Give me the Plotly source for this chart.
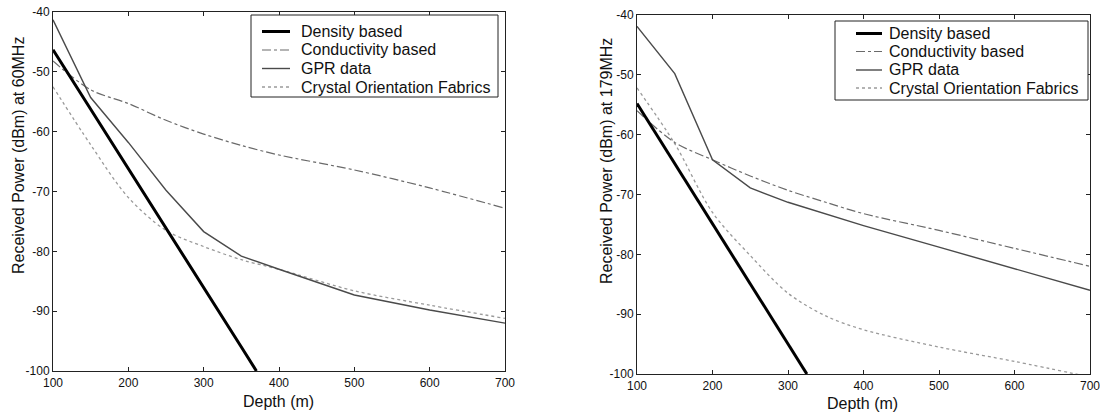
import plotly.graph_objects as go

# ---- data -------------------------------------------------------------
depth = [100, 150, 200, 250, 300, 350, 400, 500, 600, 700]

# 60 MHz panel
density_60_depth = [100, 150, 200, 250, 300, 350, 370]
density_60 = [-46.3, -56.2, -66.1, -76.0, -86.0, -96.0, -100.0]
conductivity_60 = [-48.2, -53.0, -55.3, -58.1, -60.4, -62.3, -63.9, -66.4, -69.4, -72.8]
gpr_60 = [-41.3, -54.3, -61.8, -69.8, -76.7, -80.8, -83.0, -87.3, -89.8, -92.0]
crystal_60 = [-52.5, -62.2, -71.0, -76.5, -79.2, -81.4, -83.0, -86.6, -89.0, -91.2]

# 179 MHz panel
density_179_depth = [100, 150, 200, 250, 300, 325]
density_179 = [-54.8, -64.8, -74.8, -84.9, -94.9, -100.0]
conductivity_179 = [-56.0, -61.3, -64.2, -66.9, -69.3, -71.3, -73.2, -76.0, -79.0, -82.0]
gpr_179 = [-41.9, -49.8, -64.2, -68.9, -71.3, -73.2, -75.2, -78.8, -82.4, -86.0]
crystal_179 = [-52.2, -61.5, -73.0, -80.2, -86.5, -90.3, -92.6, -95.5, -97.9, -100.5]

series_names = ["Density based", "Conductivity based", "GPR data",
                "Crystal Orientation Fabrics"]

x_tick_vals = [100, 200, 300, 400, 500, 600, 700]
x_tick_text = ["100", "200", "300", "400", "500", "600", "700"]
y_tick_vals = [-100, -90, -80, -70, -60, -50, -40]
y_tick_text = ["-100", "-90", "-80", "-70", "-60", "-50", "-40"]

x_title = "Depth (m)"
y_titles = ["Received Power (dBm) at 60MHz", "Received Power (dBm) at 179MHz"]

# ---- styling ----------------------------------------------------------
W, H = 1100, 414
FONT = "Liberation Sans, Arial, Helvetica, sans-serif"

styles = {
    "Density based": dict(color="#000000", width=3.0, dash="solid"),
    "Conductivity based": dict(color="#6a6a6a", width=1.2, dash="dashdot"),
    "GPR data": dict(color="#4a4a4a", width=1.4, dash="solid"),
    "Crystal Orientation Fabrics": dict(color="#9a9a9a", width=1.3, dash="dot"),
}
smooth = {"Density based": False, "Conductivity based": True,
          "GPR data": False, "Crystal Orientation Fabrics": True}

# plot areas in pixels: (left, top, right, bottom)
panels = [
    dict(box=(53, 12, 505, 371), xa="x", ya="y",
         legend=dict(box=(251, 15, 498, 97), sample=(262, 290), text_x=299,
                     rows=[31.5, 50, 68.5, 87]),
         ytitle=(18, 156), xtitle=(278, 401)),
    dict(box=(637, 15, 1090, 374), xa="x2", ya="y2",
         legend=dict(box=(835, 21, 1088, 100), sample=(856, 882), text_x=887,
                     rows=[33.5, 51.5, 70, 88]),
         ytitle=(607, 161), xtitle=(862, 403)),
]

panel_data = [
    {"Density based": (density_60_depth, density_60),
     "Conductivity based": (depth, conductivity_60),
     "GPR data": (depth, gpr_60),
     "Crystal Orientation Fabrics": (depth, crystal_60)},
    {"Density based": (density_179_depth, density_179),
     "Conductivity based": (depth, conductivity_179),
     "GPR data": (depth, gpr_179),
     "Crystal Orientation Fabrics": (depth, crystal_179)},
]


def fx(p):
    return p / W


def fy(p):
    return 1 - p / H


fig = go.Figure()
shapes = []
annotations = []

# draw order: light lines first, thick density line on top
draw_order = ["Crystal Orientation Fabrics", "Conductivity based", "GPR data",
              "Density based"]

for i, (panel, data) in enumerate(zip(panels, panel_data)):
    for name in draw_order:
        xs, ys = data[name]
        st = styles[name]
        line = dict(color=st["color"], width=st["width"], dash=st["dash"])
        if smooth[name]:
            line.update(shape="spline", smoothing=0.9)
        fig.add_trace(go.Scatter(
            x=xs, y=ys, mode="lines", name=name, showlegend=False,
            xaxis=panel["xa"], yaxis=panel["ya"], hoverinfo="skip", line=line,
        ))

    # legend box
    lg = panel["legend"]
    bx0, by0, bx1, by1 = lg["box"]
    shapes.append(dict(type="rect", xref="paper", yref="paper",
                       x0=fx(bx0), x1=fx(bx1), y0=fy(by1), y1=fy(by0),
                       line=dict(color="#222222", width=1), fillcolor="white",
                       layer="above"))
    for name, ry in zip(series_names, lg["rows"]):
        st = styles[name]
        shapes.append(dict(type="line", xref="paper", yref="paper",
                           x0=fx(lg["sample"][0]), x1=fx(lg["sample"][1]),
                           y0=fy(ry), y1=fy(ry), layer="above",
                           line=dict(color=st["color"], width=st["width"],
                                     dash=st["dash"])))
        annotations.append(dict(text=name, xref="paper", yref="paper",
                                x=fx(lg["text_x"]), y=fy(ry), xanchor="left",
                                yanchor="middle", showarrow=False,
                                font=dict(family=FONT, size=16, color="#111")))

    # axis titles
    annotations.append(dict(text=y_titles[i], xref="paper", yref="paper",
                            x=fx(panel["ytitle"][0]), y=fy(panel["ytitle"][1]),
                            textangle=-90, showarrow=False, xanchor="center",
                            yanchor="middle",
                            font=dict(family=FONT, size=16, color="#111")))
    annotations.append(dict(text=x_title, xref="paper", yref="paper",
                            x=fx(panel["xtitle"][0]), y=fy(panel["xtitle"][1]),
                            showarrow=False, xanchor="center", yanchor="middle",
                            font=dict(family=FONT, size=16, color="#111")))

axis_common = dict(showline=True, linecolor="#222222", linewidth=1,
                   mirror="ticks", ticks="inside", ticklen=4, tickwidth=1,
                   tickcolor="#222222", showgrid=False, zeroline=False,
                   automargin=False, ticklabeloverflow="allow",
                   tickfont=dict(family=FONT, size=12, color="#111"))

layout = dict(
    template="none",
    width=W, height=H, autosize=False,
    margin=dict(l=0, r=0, t=0, b=0, pad=0),
    paper_bgcolor="white", plot_bgcolor="white",
    showlegend=False, shapes=shapes, annotations=annotations,
)
for panel in panels:
    l, t, r, b = panel["box"]
    xkey = "xaxis" if panel["xa"] == "x" else "xaxis2"
    ykey = "yaxis" if panel["ya"] == "y" else "yaxis2"
    layout[xkey] = dict(axis_common, domain=[fx(l), fx(r)], range=[100, 700],
                        tickvals=x_tick_vals, ticktext=x_tick_text,
                        ticklabelstandoff=1, anchor=panel["ya"])
    layout[ykey] = dict(axis_common, domain=[fy(b), fy(t)], range=[-100, -40],
                        tickvals=y_tick_vals, ticktext=y_tick_text,
                        anchor=panel["xa"])

fig.update_layout(**layout)
fig.write_html("out.html")
